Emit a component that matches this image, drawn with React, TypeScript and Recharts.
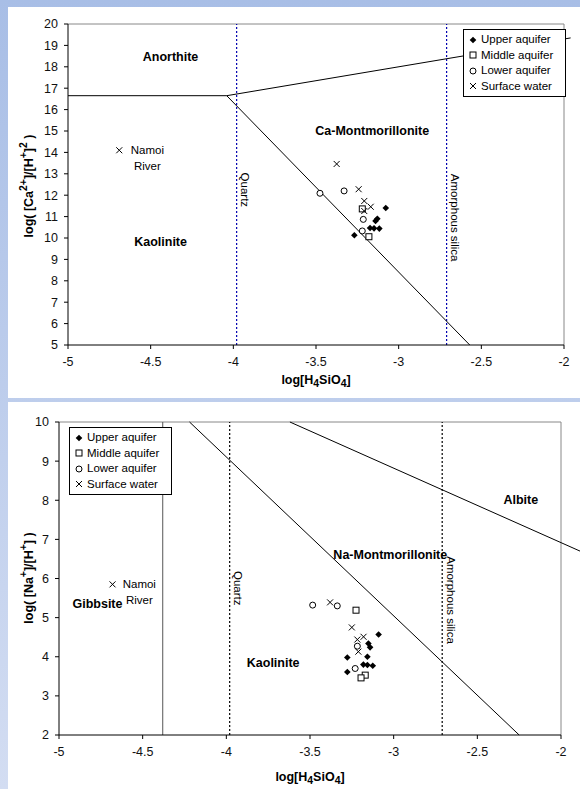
import React from "react";
import { ScatterChart, Scatter, XAxis, YAxis, ReferenceLine } from "recharts";

// shared x axis
const xTicks = [-5, -4.5, -4, -3.5, -3, -2.5, -2];
const caTicks = [5, 6, 7, 8, 9, 10, 11, 12, 13, 14, 15, 16, 17, 18, 19, 20];
const naTicks = [2, 3, 4, 5, 6, 7, 8, 9, 10];

// Ca system samples
const caUpper = [
  { x: -3.078, y: 11.4 },
  { x: -3.129, y: 10.9 },
  { x: -3.14, y: 10.8 },
  { x: -3.173, y: 10.47 },
  { x: -3.149, y: 10.45 },
  { x: -3.117, y: 10.44 },
  { x: -3.268, y: 10.13 },
];
const caMiddle = [
  { x: -3.22, y: 11.36 },
  { x: -3.18, y: 10.06 },
];
const caLower = [
  { x: -3.476, y: 12.09 },
  { x: -3.33, y: 12.2 },
  { x: -3.214, y: 10.87 },
  { x: -3.22, y: 10.33 },
];
const caSurface = [
  { x: -3.375, y: 13.46 },
  { x: -3.242, y: 12.28 },
  { x: -3.208, y: 11.73 },
  { x: -3.169, y: 11.46 },
  { x: -3.208, y: 11.26 },
  { x: -4.69, y: 14.1 },
];

// Na system samples
const naUpper = [
  { x: -3.09, y: 4.57 },
  { x: -3.151, y: 4.34 },
  { x: -3.141, y: 4.24 },
  { x: -3.277, y: 3.98 },
  { x: -3.157, y: 4.0 },
  { x: -3.181, y: 3.8 },
  { x: -3.157, y: 3.79 },
  { x: -3.125, y: 3.77 },
  { x: -3.277, y: 3.61 },
];
const naMiddle = [
  { x: -3.225, y: 5.19 },
  { x: -3.17, y: 3.53 },
  { x: -3.195, y: 3.46 },
];
const naLower = [
  { x: -3.484, y: 5.32 },
  { x: -3.337, y: 5.3 },
  { x: -3.217, y: 4.27 },
  { x: -3.23, y: 3.7 },
];
const naSurface = [
  { x: -3.38, y: 5.39 },
  { x: -3.25, y: 4.75 },
  { x: -3.18, y: 4.51 },
  { x: -3.217, y: 4.44 },
  { x: -3.211, y: 4.13 },
  { x: -4.68, y: 5.85 },
];

// stability field boundaries
const caBounds = [
  { x1: -5, y1: 16.65, x2: -4.04, y2: 16.65 },
  { x1: -4.04, y1: 16.65, x2: -1.96, y2: 19.35 },
  { x1: -4.04, y1: 16.65, x2: -2.57, y2: 5 },
];
const naBounds = [
  { x1: -4.38, y1: 2, x2: -4.38, y2: 10 },
  { x1: -4.22, y1: 10, x2: -2.25, y2: 2 },
  { x1: -3.62, y1: 10, x2: -1.886, y2: 6.7 },
];
const silicaLines = [-3.98, -2.71];

const caText = [
  { x: -4.38, y: 18.45, text: "Anorthite", bold: true },
  { x: -3.16, y: 15.0, text: "Ca-Montmorillonite", bold: true },
  { x: -4.44, y: 9.8, text: "Kaolinite", bold: true },
  { x: -4.52, y: 14.1, text: "Namoi", bold: false },
  { x: -4.52, y: 13.35, text: "River", bold: false },
  { x: -3.93, y: 12.25, text: "Quartz", bold: false, rot: true },
  { x: -2.66, y: 10.95, text: "Amorphous silica", bold: false, rot: true },
];
const naText = [
  { x: -2.24, y: 8.0, text: "Albite", bold: true },
  { x: -3.02, y: 6.6, text: "Na-Montmorillonite", bold: true },
  { x: -4.77, y: 5.35, text: "Gibbsite", bold: true },
  { x: -3.72, y: 3.85, text: "Kaolinite", bold: true },
  { x: -4.52, y: 5.85, text: "Namoi", bold: false },
  { x: -4.52, y: 5.45, text: "River", bold: false },
  { x: -3.93, y: 5.75, text: "Quartz", bold: false, rot: true },
  { x: -2.66, y: 5.45, text: "Amorphous silica", bold: false, rot: true },
];

const legendItems = ["Upper aquifer", "Middle aquifer", "Lower aquifer", "Surface water"];

const Diamond = (p: any) => (
  <path d={`M${p.cx},${p.cy - 3.3}L${p.cx + 3.3},${p.cy}L${p.cx},${p.cy + 3.3}L${p.cx - 3.3},${p.cy}Z`} fill="#000" />
);
const Square = (p: any) => (
  <rect x={p.cx - 3} y={p.cy - 3} width={6} height={6} fill="#fff" stroke="#000" strokeWidth={1} />
);
const Circle = (p: any) => <circle cx={p.cx} cy={p.cy} r={3} fill="#fff" stroke="#000" strokeWidth={1} />;
const Cross = (p: any) => (
  <path d={`M${p.cx - 3},${p.cy - 3}L${p.cx + 3},${p.cy + 3}M${p.cx - 3},${p.cy + 3}L${p.cx + 3},${p.cy - 3}`} stroke="#000" strokeWidth={1} />
);
const TextMark = (p: any) => {
  const d = p.payload;
  return (
    <text
      x={p.cx}
      y={p.cy}
      textAnchor="middle"
      dominantBaseline="central"
      fontSize={d.bold ? 12.5 : 11.5}
      fontWeight={d.bold ? "bold" : "normal"}
      fill="#000"
      transform={d.rot ? `rotate(90 ${p.cx} ${p.cy})` : undefined}
    >
      {d.text}
    </text>
  );
};

const symbols = [Diamond, Square, Circle, Cross];

function LegendBox({ left, top }: { left: number; top: number }) {
  return (
    <div
      style={{
        position: "absolute",
        left,
        top,
        width: 97,
        border: "1px solid #000",
        background: "#fff",
        padding: "2px 0 2px 4px",
        fontSize: 11.5,
        lineHeight: "15.5px",
      }}
    >
      {legendItems.map((name, i) => {
        const S = symbols[i];
        return (
          <div key={name} style={{ display: "flex", alignItems: "center" }}>
            <svg width={10} height={10} style={{ marginRight: 3 }}>
              <S cx={5} cy={5} />
            </svg>
            {name}
          </div>
        );
      })}
    </div>
  );
}

const Abs = ({ x, y, rot, children }: any) => (
  <div
    style={{
      position: "absolute",
      left: x,
      top: y,
      transform: `translate(-50%,-50%)${rot ? " rotate(-90deg)" : ""}`,
      whiteSpace: "nowrap",
      fontWeight: "bold",
      fontSize: 12.5,
    }}
  >
    {children}
  </div>
);

function Diagram(props: {
  height: number;
  margin: any;
  yWidth: number;
  yDomain: number[];
  yTicks: number[];
  bounds: any[];
  silicaColor: string;
  series: any[][];
  labels: any[];
}) {
  const { height, margin, yWidth, yDomain, yTicks, bounds, silicaColor, series, labels } = props;
  return (
    <ScatterChart width={580} height={height} margin={margin}>
      <XAxis
        type="number"
        dataKey="x"
        domain={[-5, -2]}
        ticks={xTicks}
        interval={0}
        allowDataOverflow
        height={30}
        stroke="#000"
        tickSize={4}
        tickMargin={8}
        tick={{ fill: "#111", fontSize: 12.5 }}
      />
      <YAxis
        type="number"
        dataKey="y"
        domain={yDomain}
        ticks={yTicks}
        interval={0}
        allowDataOverflow
        width={yWidth}
        stroke="#000"
        tickSize={4}
        tickMargin={6}
        tick={{ fill: "#111", fontSize: 12.5 }}
      />
      <ReferenceLine y={yDomain[1]} stroke="#888" />
      <ReferenceLine x={-2} stroke="#888" />
      {silicaLines.map((sx) => (
        <ReferenceLine key={sx} x={sx} stroke={silicaColor} strokeWidth={1.2} strokeDasharray="2 2" />
      ))}
      {bounds.map((b, i) => (
        <ReferenceLine
          key={i}
          segment={[
            { x: b.x1, y: b.y1 },
            { x: b.x2, y: b.y2 },
          ]}
          ifOverflow="visible"
          stroke={b.x1 === b.x2 ? "#555" : "#000"}
          strokeWidth={1}
        />
      ))}
      <Scatter data={labels} shape={TextMark} isAnimationActive={false} />
      {series.map((d, i) => (
        <Scatter key={i} data={d} shape={symbols[i]} isAnimationActive={false} />
      ))}
    </ScatterChart>
  );
}

export default function App() {
  return (
    <div
      style={{
        position: "absolute",
        left: 0,
        top: 0,
        width: 580,
        height: 789,
        overflow: "hidden",
        background: "linear-gradient(#a8bee6, #d3ddf2)",
        fontFamily: "'Liberation Sans', Arial, sans-serif",
        color: "#000",
      }}
    >
      <div style={{ position: "absolute", left: 8, top: 7, width: 572, height: 391, background: "#fff" }} />
      <div style={{ position: "absolute", left: 8, top: 402, width: 572, height: 387, background: "#fff" }} />

      <div style={{ position: "absolute", left: 0, top: 0 }}>
        <Diagram
          height={398}
          margin={{ top: 24, right: 16, bottom: 23, left: 0 }}
          yWidth={68}
          yDomain={[5, 20]}
          yTicks={caTicks}
          bounds={caBounds}
          silicaColor="#0000b0"
          series={[caUpper, caMiddle, caLower, caSurface]}
          labels={caText}
        />
      </div>
      <div style={{ position: "absolute", left: 0, top: 402 }}>
        <Diagram
          height={387}
          margin={{ top: 20, right: 19, bottom: 24, left: 0 }}
          yWidth={59}
          yDomain={[2, 10]}
          yTicks={naTicks}
          bounds={naBounds}
          silicaColor="#000"
          series={[naUpper, naMiddle, naLower, naSurface]}
          labels={naText}
        />
      </div>

      <LegendBox left={463} top={29} />
      <LegendBox left={69} top={427} />

      <Abs x={316} y={381}>
        log[H<sub>4</sub>SiO<sub>4</sub>]
      </Abs>
      <Abs x={310} y={778}>
        log[H<sub>4</sub>SiO<sub>4</sub>]
      </Abs>
      <Abs x={27} y={186} rot>
        log( [Ca<sup>2+</sup>]/[H<sup>+</sup>]<sup>2</sup> )
      </Abs>
      <Abs x={27} y={578} rot>
        log( [Na<sup>+</sup>]/[H<sup>+</sup>] )
      </Abs>
    </div>
  );
}
